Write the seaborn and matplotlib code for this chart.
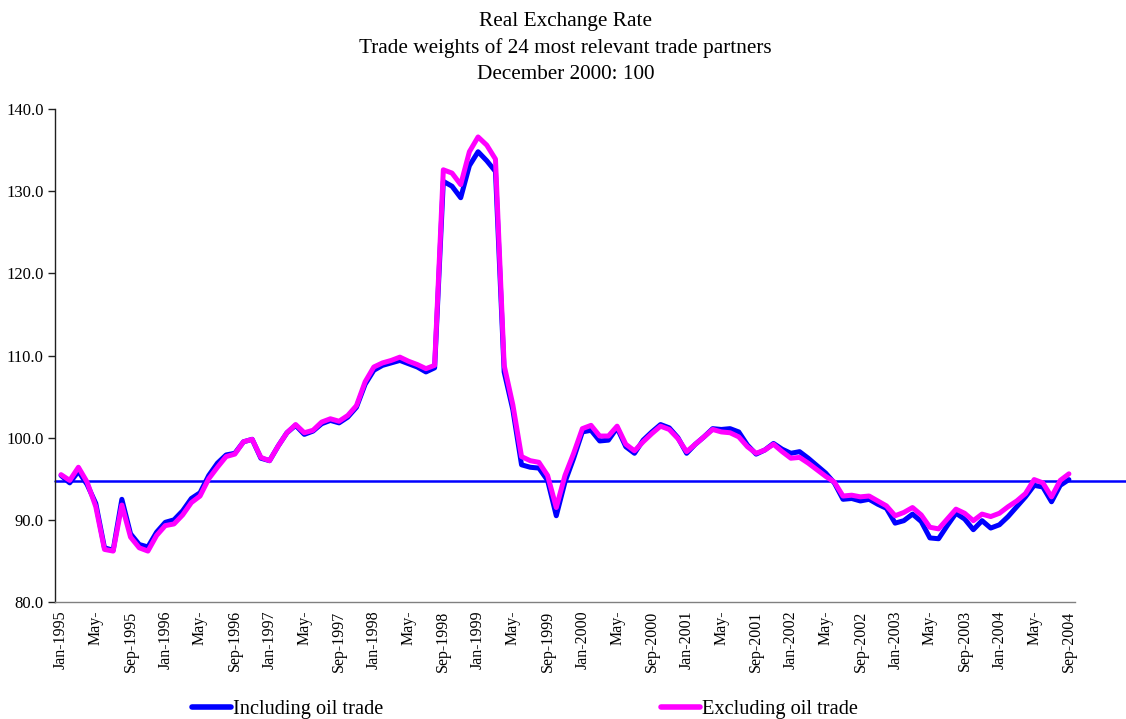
import pandas as pd
import matplotlib
matplotlib.use("Agg")
import matplotlib.pyplot as plt
import seaborn as sns

# Monthly data Jan-1995 .. Sep-2004 (117 months)
months = pd.date_range("1995-01-01", "2004-09-01", freq="MS")

incl_oil = [
    95.4, 94.5, 95.9, 94.3, 92.0, 86.6, 86.3, 92.5, 88.3, 87.0, 86.7, 88.5,
    89.7, 90.0, 91.1, 92.6, 93.3, 95.4, 96.9, 97.9, 98.1, 99.5, 99.8, 97.5,
    97.2, 99.0, 100.6, 101.5, 100.4, 100.8, 101.7, 102.1, 101.8, 102.5, 103.7, 106.5,
    108.2, 108.8, 109.1, 109.4, 109.0, 108.6, 108.0, 108.5, 131.2, 130.6, 129.2, 133.1,
    134.8, 133.7, 132.4, 108.0, 103.4, 96.7, 96.4, 96.3, 94.8, 90.5, 94.6, 97.5,
    100.7, 100.9, 99.6, 99.7, 101.2, 98.9, 98.1, 99.7, 100.7, 101.6, 101.2, 100.0,
    98.1, 99.2, 100.1, 101.1, 101.0, 101.1, 100.7, 99.1, 98.0, 98.5, 99.3, 98.6,
    98.1, 98.3, 97.5, 96.6, 95.7, 94.5, 92.5, 92.6, 92.3, 92.5, 91.9, 91.4,
    89.6, 89.9, 90.7, 89.8, 87.8, 87.7, 89.3, 90.8, 90.1, 88.8, 89.9, 89.0,
    89.4, 90.4, 91.6, 92.8, 94.2, 94.0, 92.2, 94.2, 94.9,
]

excl_oil = [
    95.5, 94.8, 96.4, 94.6, 91.6, 86.4, 86.2, 91.8, 87.9, 86.6, 86.2, 88.1,
    89.3, 89.5, 90.6, 92.1, 92.9, 95.0, 96.4, 97.7, 98.0, 99.5, 99.8, 97.6,
    97.2, 99.0, 100.6, 101.6, 100.6, 100.9, 101.9, 102.3, 102.0, 102.7, 103.9, 106.8,
    108.6, 109.1, 109.4, 109.8, 109.3, 108.9, 108.4, 108.8, 132.6, 132.2, 130.8, 134.8,
    136.6, 135.6, 133.9, 108.8, 104.0, 97.7, 97.2, 97.0, 95.4, 91.5, 95.4, 98.1,
    101.1, 101.5, 100.2, 100.2, 101.4, 99.2, 98.4, 99.5, 100.5, 101.4, 101.0, 99.9,
    98.3, 99.2, 100.1, 101.0, 100.7, 100.6, 100.1, 98.9, 98.1, 98.5, 99.2, 98.3,
    97.5, 97.6, 96.9, 96.1, 95.3, 94.6, 92.9, 93.0, 92.8, 92.9, 92.3, 91.7,
    90.5, 90.9, 91.5, 90.6, 89.1, 88.9, 90.1, 91.3, 90.8, 89.9, 90.7, 90.4,
    90.8, 91.6, 92.3, 93.2, 94.9, 94.5, 92.8, 94.8, 95.6,
]

reference_level = 94.7

# tick labels every 4 months, "May-" labels are cut off in the original
tick_labels = []
for d in months[::4]:
    if d.month == 5:
        tick_labels.append("May-")
    else:
        tick_labels.append(d.strftime("%b-%Y"))

df = pd.DataFrame({
    "t": range(len(months)),
    "Including oil trade": incl_oil,
    "Excluding oil trade": excl_oil,
})
long = df.melt(id_vars="t", var_name="serie", value_name="value")

sns.set_style("white")
plt.rcParams["font.family"] = ["Liberation Serif", "DejaVu Serif"]
plt.rcParams["text.color"] = "black"
plt.rcParams["xtick.color"] = "black"
plt.rcParams["ytick.color"] = "black"

fig = plt.figure(figsize=(11.26, 7.19), dpi=100)
ax = fig.add_axes([0.0488, 0.1627, 0.9059, 0.6857])

# reference line runs past the end of the axis, up to the figure edge
ax.plot([0, 1.07], [reference_level, reference_level], color="#0000FF", lw=1.8,
        transform=ax.get_yaxis_transform(), clip_on=False, zorder=1)
sns.lineplot(data=long, x="t", y="value", hue="serie",
             palette={"Including oil trade": "#0000FF", "Excluding oil trade": "#FF00FF"},
             linewidth=3.6, ax=ax, legend=False, zorder=3)

ax.set_ylim(80, 140)
ax.set_yticks(range(80, 141, 10))
ax.set_yticklabels([f"{v:.1f}" for v in range(80, 141, 10)], fontsize=12)
ax.set_xlim(-0.7, 116.7)
ax.set_xticks(range(0, len(months), 4))
ax.set_xticklabels(tick_labels, rotation=90, fontsize=11.5)
ax.set_xlabel("")
ax.set_ylabel("")

for s in ["top", "right"]:
    ax.spines[s].set_visible(False)
ax.spines["left"].set_color("#202020")
ax.spines["bottom"].set_color("#808080")
ax.spines["left"].set_linewidth(1.0)
ax.spines["bottom"].set_linewidth(1.0)
ax.tick_params(axis="y", direction="out", length=5, width=1, color="#202020", left=True, pad=3)
ax.tick_params(axis="x", length=0, pad=6)

fig.text(0.502, 0.983, "Real Exchange Rate\nTrade weights of 24 most relevant trade partners\nDecember 2000: 100",
         ha="center", va="top", fontsize=15.3, linespacing=1.47)

h1 = plt.Line2D([], [], color="#0000FF", lw=4, solid_capstyle="round")
h2 = plt.Line2D([], [], color="#FF00FF", lw=4, solid_capstyle="round")
fig.legend([h1, h2], ["Including oil trade", "Excluding oil trade"],
           loc="center", bbox_to_anchor=(0.466, 0.013), ncol=2, frameon=False,
           fontsize=14.7, handlelength=1.9, handletextpad=0.1, columnspacing=13.6)

fig.savefig("out.png", dpi=100)
